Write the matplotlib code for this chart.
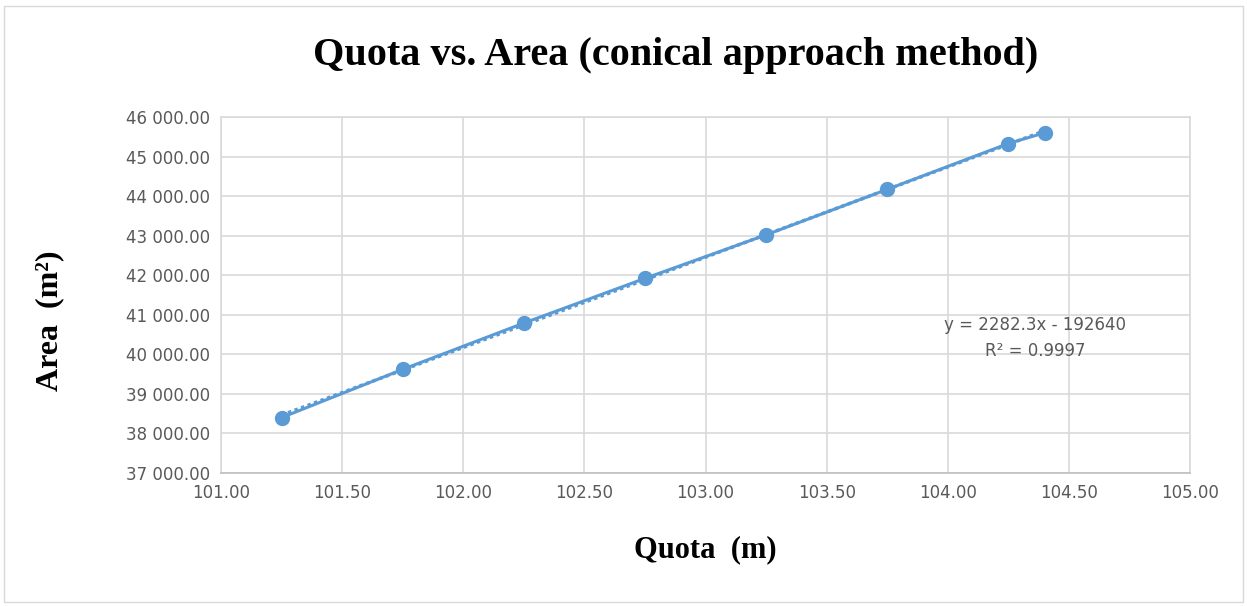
import matplotlib
matplotlib.use("Agg")
import matplotlib.pyplot as plt
from matplotlib.ticker import FuncFormatter, MultipleLocator
from matplotlib.patches import Rectangle
import numpy as np

quota = [101.25, 101.75, 102.25, 102.75, 103.25, 103.75, 104.25, 104.40]
area = [38400, 39620, 40790, 41920, 43020, 44170, 45330, 45600]
title = "Quota vs. Area (conical approach method)"
xlabel = "Quota  (m)"
ylabel = "Area  (m²)"
eq_text = "y = 2282.3x - 192640\nR² = 0.9997"

W, H = 1247, 606
fig = plt.figure(figsize=(W / 100, H / 100), dpi=100)
fig.patches.append(Rectangle((4 / W, 4 / H), (W - 8) / W, (H - 10) / H,
                             transform=fig.transFigure, fill=False,
                             edgecolor="#D9D9D9", linewidth=1))

ax = fig.add_axes([221 / W, 1 - 473 / H, (1190 - 221) / W, (473 - 117) / H])

blue = "#5B9BD5"
grid = "#D9D9D9"
tickc = "#595959"

ax.set_xlim(101, 105)
ax.set_ylim(37000, 46000)
ax.xaxis.set_major_locator(MultipleLocator(0.5))
ax.yaxis.set_major_locator(MultipleLocator(1000))
ax.grid(True, color=grid, linewidth=1.2)
ax.set_axisbelow(True)
for s in ax.spines.values():
    s.set_color(grid)
    s.set_linewidth(1.2)
ax.spines["bottom"].set_color("#BFBFBF")
ax.tick_params(length=0, labelsize=12, colors=tickc, pad=8)

def yfmt(v, pos):
    return f"{v:,.2f}".replace(",", " ")
ax.yaxis.set_major_formatter(FuncFormatter(yfmt))
ax.xaxis.set_major_formatter(FuncFormatter(lambda v, p: f"{v:.2f}"))

# trendline (linear fit, dotted)
coef = np.polyfit(quota, area, 1)
xs = np.array([min(quota), max(quota)])
ax.plot(xs, np.polyval(coef, xs), linestyle=(0, (1, 1)), color=blue,
        linewidth=2.5, zorder=2)
ax.plot(quota, area, color=blue, linewidth=2.2, marker="o",
        markersize=10, zorder=3)

t = ax.text(0, 0, eq_text, transform=None, ha="center", va="center",
            fontsize=12, color=tickc, linespacing=1.6)
t.set_position((1035, H - 338))

serif = ["Liberation Serif", "DejaVu Serif"]
fig.text(676 / W, 1 - 55 / H, title, ha="center", va="center",
         fontsize=29, fontweight="bold", family=serif)
fig.text(705 / W, 1 - 550 / H, xlabel, ha="center", va="center",
         fontsize=22, fontweight="bold", family=serif)
fig.text(50 / W, 1 - 321 / H, ylabel, ha="center", va="center", rotation=90,
         fontsize=23, fontweight="bold", family=serif)

fig.savefig("out.png", dpi=100)
